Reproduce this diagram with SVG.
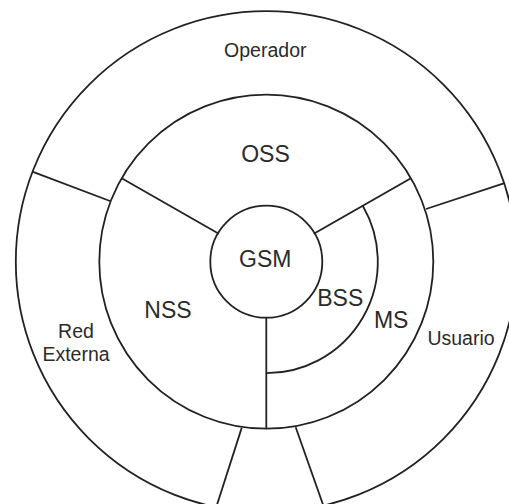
<svg xmlns="http://www.w3.org/2000/svg" width="509" height="504" viewBox="0 0 509 504">
  <style>
    .ring { fill: none; stroke: #222222; stroke-width: 1.8; }
    .div { fill: none; stroke: #222222; stroke-width: 1.8; stroke-linecap: butt; }
    .big { font-family: "Liberation Sans", Arial, sans-serif; font-size: 23px; fill: #2b2b2b; text-anchor: middle; }
    .small { font-family: "Liberation Sans", Arial, sans-serif; font-size: 19.5px; fill: #2b2b2b; text-anchor: middle; }
  </style>
  <rect width="509" height="504" fill="#ffffff"/>

  <!-- outer ring: external actors -->
  <g id="operador">
    <circle class="ring" cx="266.3" cy="261.7" r="250.5"/>
    <text class="small" x="265.3" y="56.7">Operador</text>
  </g>
  <g id="red-externa">
    <text class="small" x="76" y="337.7">Red</text>
    <text class="small" x="76" y="360.5">Externa</text>
  </g>
  <g id="usuario">
    <text class="small" x="461" y="345">Usuario</text>
  </g>

  <!-- middle ring: subsystems -->
  <g id="oss">
    <circle class="ring" cx="266.3" cy="261.7" r="167"/>
    <text class="big" x="265.5" y="161.7">OSS</text>
  </g>
  <g id="nss">
    <text class="big" x="168" y="317.7">NSS</text>
  </g>
  <g id="bss">
    <path class="ring" d="M 362.9 206 A 111.5 111.5 0 0 1 266.3 373.2"/>
    <text class="big" x="340.3" y="306">BSS</text>
  </g>
  <g id="ms">
    <text class="big" x="391.2" y="327.7">MS</text>
  </g>

  <!-- core -->
  <g id="gsm">
    <circle class="ring" cx="266.3" cy="261.7" r="56"/>
    <text class="big" x="265.3" y="267.3">GSM</text>
  </g>

  <!-- dividing lines between the regions -->
  <g id="connectors">
    <line class="div" x1="218.8" y1="233.7" x2="121.7" y2="178.2"/>
    <line class="div" x1="313.8" y1="233.7" x2="410.9" y2="178.2"/>
    <line class="div" x1="266.3" y1="317.7" x2="266.3" y2="428.7"/>
    <line class="div" x1="110" y1="201" x2="32.3" y2="171.7"/>
    <line class="div" x1="426" y1="209" x2="504.5" y2="183.2"/>
    <line class="div" x1="241.7" y1="427.9" x2="216.3" y2="507"/>
    <line class="div" x1="295.7" y1="427.2" x2="323.5" y2="506"/>
  </g>
</svg>
